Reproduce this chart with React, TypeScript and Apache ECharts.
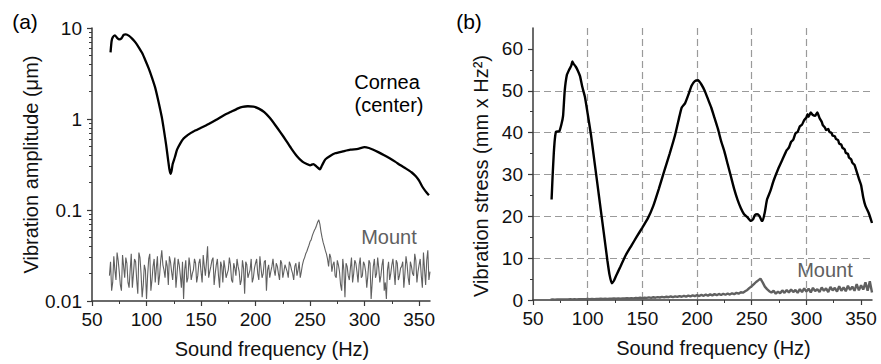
import React, { useEffect, useRef } from 'react';
import * as echarts from 'echarts';

// ---------- data ----------
const xTickValues = [50, 100, 150, 200, 250, 300, 350];
const logMajorValues = [0.01, 0.1, 1, 10];
const logMinorValues = [0.02, 0.03, 0.04, 0.05, 0.06, 0.07, 0.08, 0.09, 0.2, 0.3, 0.4, 0.5, 0.6, 0.7, 0.8, 0.9, 2, 3, 4, 5, 6, 7, 8, 9];
const stressTickValues = [0, 10, 20, 30, 40, 50, 60];

// (a) Cornea (center) vibration amplitude, µm
const freqCorneaA = [67, 68, 69, 71, 73, 75, 77, 79, 81, 84, 87, 90, 93, 96, 99, 102, 105, 108, 111, 114, 116, 118, 120, 121, 122, 123, 124, 126, 128, 131, 134, 138, 143, 150, 157, 164, 171, 178, 184, 188, 193, 198, 203, 208, 213, 218, 223, 228, 233, 238, 243, 247, 250, 253, 256, 259, 261, 264, 268, 273, 280, 287, 294, 300, 304, 308, 313, 318, 323, 328, 333, 338, 343, 347, 350, 353, 356, 359];
const corneaA = [5.4, 7.2, 7.9, 8.3, 7.8, 7.5, 7.7, 8.4, 8.5, 8.2, 7.6, 6.9, 6.1, 5.3, 4.4, 3.6, 2.85, 2.2, 1.55, 1.05, 0.75, 0.52, 0.34, 0.28, 0.25, 0.27, 0.32, 0.38, 0.46, 0.54, 0.61, 0.67, 0.73, 0.8, 0.88, 0.98, 1.1, 1.21, 1.31, 1.36, 1.38, 1.37, 1.3, 1.19, 1.03, 0.86, 0.71, 0.58, 0.47, 0.39, 0.34, 0.32, 0.31, 0.32, 0.3, 0.28, 0.31, 0.36, 0.39, 0.42, 0.44, 0.46, 0.47, 0.49, 0.48, 0.46, 0.43, 0.4, 0.37, 0.34, 0.31, 0.285, 0.26, 0.235, 0.21, 0.18, 0.16, 0.145];

// Mount frequencies: even Hz (66..360) and odd Hz (67..359)
const freqMount = [66, 68, 70, 72, 74, 76, 78, 80, 82, 84, 86, 88, 90, 92, 94, 96, 98, 100, 102, 104, 106, 108, 110, 112, 114, 116, 118, 120, 122, 124, 126, 128, 130, 132, 134, 136, 138, 140, 142, 144, 146, 148, 150, 152, 154, 156, 158, 160, 162, 164, 166, 168, 170, 172, 174, 176, 178, 180, 182, 184, 186, 188, 190, 192, 194, 196, 198, 200, 202, 204, 206, 208, 210, 212, 214, 216, 218, 220, 222, 224, 226, 228, 230, 232, 234, 236, 238, 240, 242, 244, 246, 248, 250, 252, 254, 256, 258, 260, 262, 264, 266, 268, 270, 272, 274, 276, 278, 280, 282, 284, 286, 288, 290, 292, 294, 296, 298, 300, 302, 304, 306, 308, 310, 312, 314, 316, 318, 320, 322, 324, 326, 328, 330, 332, 334, 336, 338, 340, 342, 344, 346, 348, 350, 352, 354, 356, 358, 360];
const freqMountOdd = [67, 69, 71, 73, 75, 77, 79, 81, 83, 85, 87, 89, 91, 93, 95, 97, 99, 101, 103, 105, 107, 109, 111, 113, 115, 117, 119, 121, 123, 125, 127, 129, 131, 133, 135, 137, 139, 141, 143, 145, 147, 149, 151, 153, 155, 157, 159, 161, 163, 165, 167, 169, 171, 173, 175, 177, 179, 181, 183, 185, 187, 189, 191, 193, 195, 197, 199, 201, 203, 205, 207, 209, 211, 213, 215, 217, 219, 221, 223, 225, 227, 229, 231, 233, 235, 237, 239, 241, 243, 245, 247, 249, 251, 253, 255, 257, 259, 261, 263, 265, 267, 269, 271, 273, 275, 277, 279, 281, 283, 285, 287, 289, 291, 293, 295, 297, 299, 301, 303, 305, 307, 309, 311, 313, 315, 317, 319, 321, 323, 325, 327, 329, 331, 333, 335, 337, 339, 341, 343, 345, 347, 349, 351, 353, 355, 357, 359];

// (a) Mount vibration amplitude, µm
const mountA = [0.019, 0.013, 0.031, 0.017, 0.028, 0.015, 0.032, 0.018, 0.026, 0.014, 0.033, 0.02, 0.027, 0.012, 0.03, 0.011, 0.025, 0.0105, 0.029, 0.013, 0.024, 0.016, 0.031, 0.019, 0.036, 0.022, 0.028, 0.015, 0.027, 0.017, 0.03, 0.02, 0.025, 0.014, 0.0105, 0.028, 0.018, 0.024, 0.02, 0.029, 0.016, 0.026, 0.021, 0.032, 0.019, 0.04, 0.021, 0.028, 0.015, 0.025, 0.019, 0.027, 0.016, 0.023, 0.02, 0.03, 0.017, 0.026, 0.019, 0.024, 0.015, 0.028, 0.012, 0.025, 0.02, 0.029, 0.018, 0.026, 0.02, 0.031, 0.018, 0.027, 0.013, 0.025, 0.021, 0.029, 0.019, 0.024, 0.017, 0.026, 0.021, 0.023, 0.018, 0.025, 0.02, 0.024, 0.019, 0.027, 0.021, 0.028, 0.033, 0.038, 0.045, 0.052, 0.06, 0.068, 0.078, 0.058, 0.044, 0.036, 0.029, 0.033, 0.021, 0.027, 0.018, 0.025, 0.015, 0.029, 0.011, 0.024, 0.017, 0.03, 0.02, 0.026, 0.016, 0.03, 0.019, 0.025, 0.014, 0.028, 0.0105, 0.024, 0.018, 0.03, 0.016, 0.025, 0.013, 0.0105, 0.027, 0.02, 0.029, 0.015, 0.026, 0.019, 0.024, 0.014, 0.031, 0.018, 0.027, 0.02, 0.033, 0.016, 0.025, 0.019, 0.034, 0.015, 0.036, 0.021];
const mountAOdd = [0.027, 0.016, 0.022, 0.034, 0.021, 0.013, 0.024, 0.03, 0.016, 0.022, 0.014, 0.029, 0.017, 0.034, 0.02, 0.015, 0.022, 0.019, 0.033, 0.017, 0.029, 0.023, 0.015, 0.028, 0.025, 0.018, 0.024, 0.031, 0.021, 0.025, 0.014, 0.029, 0.019, 0.027, 0.022, 0.016, 0.03, 0.017, 0.022, 0.026, 0.019, 0.029, 0.016, 0.024, 0.027, 0.018, 0.024, 0.03, 0.02, 0.029, 0.014, 0.024, 0.028, 0.018, 0.022, 0.025, 0.016, 0.023, 0.029, 0.021, 0.017, 0.023, 0.027, 0.018, 0.022, 0.016, 0.023, 0.029, 0.017, 0.023, 0.02, 0.028, 0.022, 0.018, 0.024, 0.022, 0.026, 0.02, 0.028, 0.018, 0.025, 0.021, 0.027, 0.022, 0.017, 0.026, 0.022, 0.018, 0.025, 0.03, 0.035, 0.041, 0.047, 0.056, 0.063, 0.074, 0.07, 0.05, 0.04, 0.033, 0.024, 0.03, 0.025, 0.019, 0.028, 0.021, 0.013, 0.022, 0.026, 0.019, 0.023, 0.016, 0.028, 0.021, 0.025, 0.018, 0.027, 0.021, 0.019, 0.026, 0.016, 0.029, 0.02, 0.023, 0.019, 0.029, 0.016, 0.022, 0.017, 0.025, 0.021, 0.028, 0.017, 0.023, 0.027, 0.02, 0.025, 0.015, 0.024, 0.019, 0.028, 0.021, 0.029, 0.014, 0.022, 0.028, 0.017];

// (b) Cornea vibration stress, mm x Hz^2
const freqCorneaB = [67, 68, 69, 70, 71, 74, 76, 77.5, 79, 81, 83, 85, 86, 87, 89, 91, 93, 95, 97.5, 100, 103, 106, 109, 112, 115, 118, 120, 122, 124, 126, 130, 135, 140, 145, 150, 155, 160, 165, 170, 175, 180, 184, 186, 189, 192, 195, 198, 201, 204, 207, 210, 213, 216, 219, 222, 225, 228, 231, 234, 237, 240, 243, 246, 249, 251, 253, 255, 257, 259, 260, 262, 264, 267, 270, 274, 278, 282, 284, 286, 288, 290, 292, 294, 296, 298, 300, 301, 302, 304, 306, 308, 310, 312, 314, 315, 317, 318, 320, 321, 323, 324, 326, 327, 329, 330, 332, 333, 335, 336, 338, 339, 341, 342, 344, 345, 348, 350, 352, 354, 357, 360];
const corneaB = [24, 30, 35, 38.5, 40.2, 40.3, 42, 44, 50, 53.8, 55, 56, 57, 56.5, 55.8, 54.8, 53.5, 51, 48.5, 44.5, 39.5, 33.5, 27.5, 21.5, 15.5, 9.5, 6, 4, 4.6, 5.8, 8, 10.8, 13, 15.2, 17.3, 19.5, 22.5, 26.5, 30.8, 35, 39.5, 44, 46, 47, 49, 51.2, 52.3, 52.5, 51.5, 50, 48, 46, 43.5, 41, 38, 35.5, 32.5, 29.5, 26.5, 24, 22, 20.5, 19.8, 18.9, 19.2, 20.3, 20.5, 20.1, 19, 18.9, 21, 24, 26, 28.5, 31.2, 33.5, 35.8, 36.4, 37.8, 38.3, 39.8, 40.2, 41.5, 41.9, 43, 43.6, 44.4, 43.8, 44.8, 44.2, 44, 44.8, 43.5, 42.6, 41.8, 41.2, 40.6, 40.9, 40.2, 39.9, 39.3, 39.1, 38.5, 38.2, 37.4, 37.1, 36.4, 36.0, 35.2, 34.9, 34, 33.6, 32.8, 32.3, 31.5, 29, 27.5, 24.5, 22.5, 20.8, 18.4];

// (b) Mount vibration stress, mm x Hz^2 (at freqMount)
const mountB = [0.1, 0.12, 0.1, 0.13, 0.12, 0.14, 0.13, 0.16, 0.14, 0.17, 0.15, 0.18, 0.16, 0.2, 0.17, 0.21, 0.19, 0.23, 0.2, 0.25, 0.22, 0.27, 0.24, 0.29, 0.26, 0.31, 0.28, 0.33, 0.3, 0.36, 0.31, 0.38, 0.33, 0.4, 0.35, 0.43, 0.37, 0.46, 0.4, 0.5, 0.43, 0.53, 0.46, 0.57, 0.5, 0.62, 0.52, 0.65, 0.55, 0.7, 0.6, 0.74, 0.62, 0.78, 0.66, 0.84, 0.7, 0.88, 0.74, 0.94, 0.78, 1.0, 0.82, 1.05, 0.86, 1.1, 0.92, 1.15, 0.95, 1.22, 1.0, 1.28, 1.05, 1.35, 1.1, 1.4, 1.15, 1.45, 1.2, 1.5, 1.25, 1.55, 1.3, 1.6, 1.38, 1.7, 1.5, 1.85, 1.75, 2.1, 2.4, 2.9, 3.3, 3.8, 4.3, 4.7, 5.1, 4.2, 3.2, 2.6, 2.1, 1.8, 2.2, 1.5, 2.0, 1.6, 2.3, 1.7, 2.4, 1.8, 2.5, 1.9, 2.4, 1.7, 2.6, 1.9, 2.8, 2.0, 2.7, 1.8, 2.9, 2.1, 2.6, 1.9, 3.0, 2.2, 2.8, 1.9, 3.1, 2.3, 2.9, 2.0, 3.3, 2.2, 3.0, 2.1, 3.4, 2.4, 3.2, 2.2, 3.8, 2.3, 3.5, 2.5, 4.2, 2.2, 4.5, 1.8];

// ---------- styles ----------
const FONT = "'Liberation Sans', Arial, Helvetica, sans-serif";
const AXIS_COLOR = '#3a3a3a';
const BLACK = '#000000';
const GREY = '#606060';

const pairs = (xs: number[], ys: number[]) => xs.map((x, i) => [x, ys[i]]);
const mergedPairs = (xs1: number[], ys1: number[], xs2: number[], ys2: number[]) =>
  pairs(xs1, ys1).concat(pairs(xs2, ys2)).sort((a, b) => a[0] - b[0]);

const fmtNum = (v: number) => String(parseFloat(Number(v).toPrecision(3)));

const xAxisCommon = (gridIndex: number, withGrid: boolean) => ({
  type: 'value',
  gridIndex,
  min: 50,
  max: 360,
  interval: 50,
  name: 'Sound frequency (Hz)',
  nameLocation: 'middle',
  nameGap: 38,
  nameTextStyle: { fontSize: 20, color: '#111', fontFamily: FONT, padding: [0, 0, 0, 22] },
  axisLine: { show: true, onZero: false, lineStyle: { color: AXIS_COLOR, width: 1.5 } },
  axisTick: { show: true, length: 5, customValues: xTickValues, lineStyle: { color: AXIS_COLOR, width: 1.2 } },
  minorTick: { show: true, splitNumber: 2, length: 3, lineStyle: { color: AXIS_COLOR, width: 1 } },
  axisLabel: { customValues: xTickValues, fontSize: 19, color: '#111', margin: 9, fontFamily: FONT },
  splitLine: withGrid
    ? { show: true, showMinLine: false, showMaxLine: false, lineStyle: { color: '#9a9a9a', type: [7, 4], width: 1.2 } }
    : { show: false },
  minorSplitLine: { show: false },
});

const option: any = {
  animation: false,
  backgroundColor: '#ffffff',
  textStyle: { fontFamily: FONT },
  grid: [
    { left: 92, top: 28, width: 338, height: 274, containLabel: false },
    { left: 533, top: 28, width: 339, height: 272, containLabel: false },
  ],
  xAxis: [xAxisCommon(0, false), xAxisCommon(1, true)],
  yAxis: [
    {
      type: 'log',
      gridIndex: 0,
      logBase: 10,
      min: 0.01,
      max: 10,
      name: 'Vibration amplitude (μm)',
      nameLocation: 'middle',
      nameGap: 50,
      nameTextStyle: { fontSize: 20, color: '#111', fontFamily: FONT },
      axisLine: { show: true, onZero: false, lineStyle: { color: AXIS_COLOR, width: 1.5 } },
      axisTick: { show: true, length: 5, customValues: logMajorValues, lineStyle: { color: AXIS_COLOR, width: 1.2 } },
      axisLabel: { customValues: logMajorValues, fontSize: 19, color: '#111', margin: 10, fontFamily: FONT, formatter: (v: number) => fmtNum(v) },
      splitLine: { show: false },
    },
    {
      type: 'log',
      gridIndex: 0,
      logBase: 10,
      min: 0.01,
      max: 10,
      position: 'left',
      offset: 0,
      axisLine: { show: false },
      axisTick: { show: true, length: 3, customValues: logMinorValues, lineStyle: { color: AXIS_COLOR, width: 1 } },
      axisLabel: { show: false },
      splitLine: { show: false },
    },
    {
      type: 'value',
      gridIndex: 1,
      min: 0,
      max: 65,
      interval: 10,
      name: 'Vibration stress (mm x Hz²)',
      nameLocation: 'middle',
      nameGap: 42,
      nameTextStyle: { fontSize: 20, color: '#111', fontFamily: FONT, padding: [0, 24, 0, 0] },
      axisLine: { show: true, onZero: false, lineStyle: { color: AXIS_COLOR, width: 1.5 } },
      axisTick: { show: true, length: 5, customValues: stressTickValues, lineStyle: { color: AXIS_COLOR, width: 1.2 } },
      minorTick: { show: true, splitNumber: 2, length: 3, lineStyle: { color: AXIS_COLOR, width: 1 } },
      axisLabel: { customValues: stressTickValues, fontSize: 19, color: '#111', margin: 10, fontFamily: FONT },
      splitLine: { show: true, showMinLine: false, showMaxLine: false, lineStyle: { color: '#9a9a9a', type: [7, 4], width: 1.2 } },
      minorSplitLine: { show: false },
    },
  ],
  series: [
    {
      name: 'Mount (a)',
      type: 'line',
      xAxisIndex: 0,
      yAxisIndex: 0,
      data: mergedPairs(freqMount, mountA, freqMountOdd, mountAOdd),
      showSymbol: false,
      symbol: 'none',
      lineStyle: { color: GREY, width: 1.1 },
      z: 2,
    },
    {
      name: 'Cornea (a)',
      type: 'line',
      xAxisIndex: 0,
      yAxisIndex: 0,
      data: pairs(freqCorneaA, corneaA),
      showSymbol: false,
      symbol: 'none',
      smooth: 0.2,
      lineStyle: { color: BLACK, width: 2.3 },
      z: 3,
    },
    {
      name: 'Mount (b)',
      type: 'line',
      xAxisIndex: 1,
      yAxisIndex: 2,
      data: pairs(freqMount, mountB),
      showSymbol: false,
      symbol: 'none',
      lineStyle: { color: GREY, width: 2.4 },
      z: 2,
    },
    {
      name: 'Cornea (b)',
      type: 'line',
      xAxisIndex: 1,
      yAxisIndex: 2,
      data: pairs(freqCorneaB, corneaB),
      showSymbol: false,
      symbol: 'none',
      smooth: 0.15,
      lineStyle: { color: BLACK, width: 2.4 },
      z: 3,
    },
  ],
  graphic: [
    { type: 'text', x: 25, y: 21, style: { text: '(a)', font: `21px ${FONT}`, fill: '#000', align: 'center', verticalAlign: 'middle' } },
    { type: 'text', x: 469, y: 21, style: { text: '(b)', font: `21px ${FONT}`, fill: '#000', align: 'center', verticalAlign: 'middle' } },
    { type: 'text', x: 387, y: 82, style: { text: 'Cornea', font: `20px ${FONT}`, fill: '#000', align: 'center', verticalAlign: 'middle' } },
    { type: 'text', x: 389, y: 105, style: { text: '(center)', font: `20px ${FONT}`, fill: '#000', align: 'center', verticalAlign: 'middle' } },
    { type: 'text', x: 389, y: 237, style: { text: 'Mount', font: `20px ${FONT}`, fill: GREY, align: 'center', verticalAlign: 'middle' } },
    { type: 'text', x: 825, y: 270, style: { text: 'Mount', font: `20px ${FONT}`, fill: GREY, align: 'center', verticalAlign: 'middle' } },
  ],
};

export default function App() {
  const ref = useRef<HTMLDivElement>(null);
  useEffect(() => {
    if (!ref.current) return;
    const chart = echarts.init(ref.current, null, { renderer: 'svg' });
    chart.setOption(option);
    return () => chart.dispose();
  }, []);
  return (
    <div
      ref={ref}
      style={{ position: 'fixed', left: 0, top: 0, width: 881, height: 364, background: '#ffffff' }}
    />
  );
}
